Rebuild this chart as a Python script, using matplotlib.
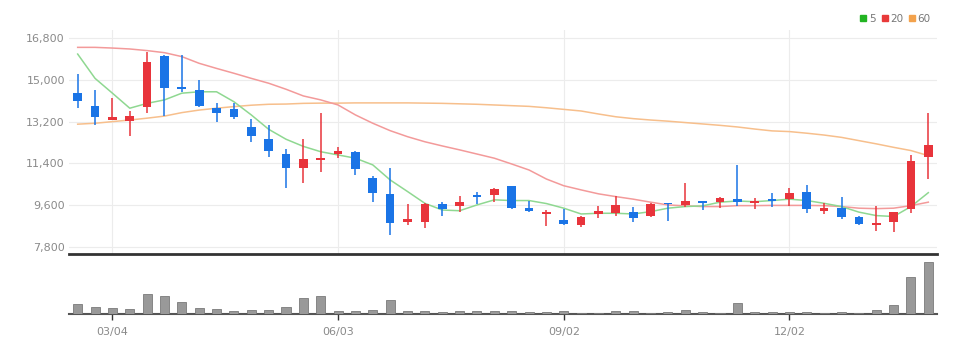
import matplotlib
matplotlib.use("Agg")
import matplotlib.pyplot as plt
from matplotlib.lines import Line2D
import numpy as np

plt.rcParams['font.family'] = ['Liberation Sans Narrow', 'DejaVu Sans']

# weekly candles
opens = [14430, 13880, 13270, 13240, 13820, 16040, 14710, 14570, 13800, 13730,
         12960, 12450, 11790, 11200, 11540, 11820, 11900, 10780, 10080, 8880,
         8880, 9640, 9570, 10020, 10020, 10420, 9460, 9210, 8950, 8720,
         9210, 9270, 9310, 9130, 9700, 9590, 9770, 9720, 9870, 9670,
         9850, 9860, 10160, 9350, 9460, 9100, 8740, 8880, 9430, 11690]
highs = [15250, 14570, 14210, 13660, 16220, 16060, 16080, 15000, 14020, 14020,
         13320, 13060, 12010, 12440, 13590, 12120, 11920, 10870, 11210, 9640,
         9700, 9740, 10000, 10180, 10350, 10440, 9790, 9380, 9410, 9140,
         9560, 9990, 9530, 9700, 9700, 10540, 9790, 9960, 11330, 9900,
         10110, 10350, 10460, 9670, 9930, 9120, 9560, 9310, 11760, 13590]
lows = [13800, 13060, 13270, 12580, 13560, 13440, 14490, 13850, 13200, 13300,
        12330, 11690, 10320, 10540, 11040, 11620, 10900, 9740, 8300, 8740,
        8590, 9130, 9310, 9640, 9740, 9440, 9310, 8710, 8720, 8640,
        9030, 9130, 8850, 9100, 8920, 9530, 9380, 9460, 9570, 9410,
        9530, 9570, 9240, 9210, 9000, 8750, 8480, 8450, 9270, 10710]
closes = [14110, 13410, 13390, 13440, 15790, 14640, 14620, 13890, 13590, 13410,
          12580, 11930, 11190, 11590, 11620, 11920, 11140, 10110, 8840, 9000,
          9640, 9410, 9720, 9960, 10300, 9460, 9350, 9290, 8770, 9100,
          9340, 9600, 9050, 9630, 9630, 9760, 9700, 9900, 9740, 9760,
          9790, 10110, 9430, 9460, 9100, 8780, 8840, 9290, 11510, 12190]

# moving averages as drawn
ma5 = [16120, 15070, 14430, 13780, 13990, 14140, 14430, 14490, 14490, 14060,
       13490, 12870, 12440, 12130, 11900, 11760, 11620, 11330, 10680, 10180,
       9670, 9380, 9350, 9600, 9820, 9790, 9790, 9660, 9460, 9210,
       9240, 9240, 9210, 9310, 9460, 9530, 9560, 9720, 9770, 9740,
       9790, 9850, 9790, 9670, 9530, 9290, 9140, 9100, 9530, 10130]
ma20 = [16410, 16410, 16380, 16340, 16270, 16180, 16010, 15720, 15500, 15290,
        15070, 14860, 14600, 14310, 14140, 13920, 13490, 13130, 12810, 12550,
        12330, 12150, 11980, 11800, 11620, 11370, 11110, 10720, 10430, 10250,
        10080, 9960, 9850, 9720, 9600, 9560, 9530, 9530, 9570, 9570,
        9580, 9580, 9580, 9570, 9530, 9460, 9440, 9460, 9570, 9720]
ma60 = [13090, 13130, 13200, 13270, 13350, 13440, 13590, 13700, 13780, 13850,
        13910, 13950, 13960, 13990, 14000, 14000, 14010, 14010, 14010, 14010,
        14000, 13990, 13970, 13950, 13920, 13890, 13860, 13800, 13730, 13660,
        13530, 13410, 13330, 13270, 13220, 13160, 13100, 13040, 12970, 12880,
        12800, 12770, 12700, 12620, 12520, 12380, 12240, 12090, 11950, 11730]

volumes = [97, 73, 57, 47, 200, 183, 117, 57, 50, 27,
           40, 40, 70, 157, 183, 27, 27, 43, 140, 27,
           27, 20, 27, 27, 27, 27, 20, 20, 27, 15,
           15, 27, 27, 15, 20, 40, 20, 15, 107, 23,
           23, 20, 20, 15, 20, 15, 40, 90, 373, 523]

tick_idx = [2, 15, 28, 41]
tick_labels = ['03/04', '06/03', '09/02', '12/02']
y_ticks = [7800, 9600, 11400, 13200, 15000, 16800]

UP = '#e8343b'
DOWN = '#1a74e6'

fig = plt.figure(figsize=(9.79, 3.53), dpi=100)
W, H = 979, 353
left, right = 69, 937
ax = fig.add_axes([left / W, 1 - 254 / H, (right - left) / W, (254 - 30) / H])
axv = fig.add_axes([left / W, 1 - 314 / H, (right - left) / W, (314 - 256) / H])

x = np.arange(len(opens))
o = np.array(opens)
c = np.array(closes)
colors = [UP if cc >= oo else DOWN for oo, cc in zip(o, c)]

ax.vlines(x, lows, highs, colors=colors, linewidth=1.1, zorder=3)
ax.bar(x, np.maximum(np.abs(c - o), 50), bottom=np.minimum(o, c), width=0.5,
       color=colors, linewidth=0, zorder=4)

ax.plot(x, ma60, color='#f7bf8c', linewidth=1.1, zorder=2)
ax.plot(x, ma20, color='#f39a9a', linewidth=1.1, zorder=2)
ax.plot(x, ma5, color='#8fd891', linewidth=1.1, zorder=2)

ax.set_xlim(-0.5, 49.5)
ax.set_ylim(7480, 17160)
ax.set_yticks(y_ticks)
ax.set_yticklabels([f'{v:,}' for v in y_ticks])
ax.set_xticks(tick_idx)
ax.set_xticklabels([])
ax.grid(True, color='#ececec', linewidth=0.8)
ax.set_axisbelow(True)
ax.tick_params(axis='y', length=0, pad=3, labelsize=8, labelcolor='#8a8a8a')
ax.tick_params(axis='x', length=0)
for s in ['top', 'right', 'left']:
    ax.spines[s].set_visible(False)
ax.spines['bottom'].set_color('#333333')
ax.spines['bottom'].set_linewidth(2)

# legend above the chart
handles = [Line2D([0], [0], marker='s', linestyle='None', markersize=5,
                  color=col, label=lab)
           for col, lab in [('#22b422', '5'), ('#e83a3a', '20'), ('#f3a24c', '60')]]
leg = ax.legend(handles=handles, loc='lower right', bbox_to_anchor=(1.0, 1.0),
                ncol=3, frameon=False, fontsize=7.5, handlelength=0.6,
                handletextpad=0.2, columnspacing=0.6, borderpad=0.1)
for t in leg.get_texts():
    t.set_color('#777777')

# volume
axv.bar(x, volumes, width=0.52, color='#999999', edgecolor='#7a7a7a',
        linewidth=0.6, zorder=3)
axv.set_xlim(-0.5, 49.5)
axv.set_ylim(0, max(volumes) * 58 / 52.3)
axv.set_yticks([])
axv.set_xticks(tick_idx)
axv.set_xticklabels(tick_labels)
axv.tick_params(axis='x', length=4, width=1, color='#333333', pad=5,
                labelsize=8, labelcolor='#8a8a8a')
for s in ['top', 'right', 'left']:
    axv.spines[s].set_visible(False)
axv.spines['bottom'].set_color('#555555')
axv.spines['bottom'].set_linewidth(1.5)
axv.spines['bottom'].set_zorder(2)

fig.savefig('out.png', dpi=100)
